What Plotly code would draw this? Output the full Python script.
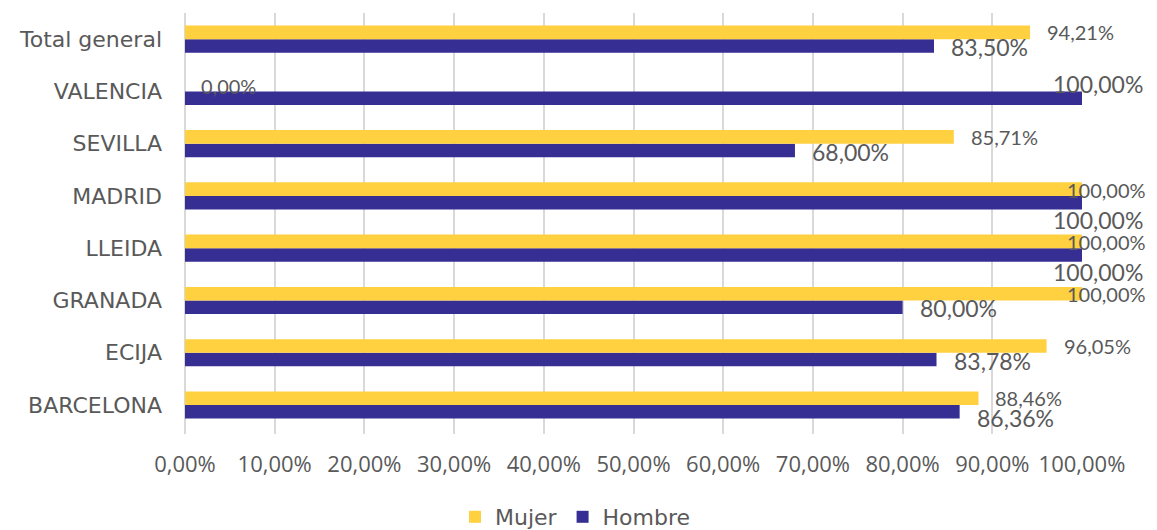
import plotly.graph_objects as go

categories = ["BARCELONA", "ECIJA", "GRANADA", "LLEIDA", "MADRID", "SEVILLA", "VALENCIA", "Total general"]
mujer = [0.8846, 0.9605, 1.0, 1.0, 1.0, 0.8571, 0.0, 0.9421]
hombre = [0.8636, 0.8378, 0.80, 1.0, 1.0, 0.68, 1.0, 0.8350]
x_ticks = [i / 10 for i in range(11)]

YELLOW = "#FFD03F"
BLUE = "#362E93"
TEXT = "#595959"
FONT = "Lato"
CAT_FONT = "DejaVu Sans"
TICK_FONT = "Open Sans"

def fmt(v):
    return f"{v*100:.2f}%".replace(".", ",")

fig = go.Figure()
fig.add_trace(go.Bar(y=categories, x=hombre, orientation="h", name="Hombre",
                     marker=dict(color=BLUE, line=dict(width=0))))
fig.add_trace(go.Bar(y=categories, x=mujer, orientation="h", name="Mujer",
                     marker=dict(color=YELLOW, line=dict(width=0))))

mfont = dict(size=20, color=TEXT, family=FONT)
hfont = dict(size=23, color=TEXT, family=FONT)
annotations = []
for i, (cat, m, h) in enumerate(zip(categories, mujer, hombre)):
    # Mujer labels
    if m >= 0.999:
        annotations.append(dict(x=m, y=cat, text=fmt(m), xanchor="right", xshift=66, yshift=6,
                                showarrow=False, font=mfont))
    elif m <= 0.001:
        annotations.append(dict(x=m, y=cat, text=fmt(m), xanchor="left", xshift=14, yshift=5,
                                showarrow=False, font=mfont))
    else:
        annotations.append(dict(x=m, y=cat, text=fmt(m), xanchor="left", xshift=15, yshift=7,
                                showarrow=False, font=mfont))
    # Hombre labels
    if h >= 0.999:
        ys = 7 if m <= 0.001 else -24
        annotations.append(dict(x=h, y=cat, text=fmt(h), xanchor="right", xshift=63, yshift=ys,
                                showarrow=False, font=hfont))
    else:
        ys = -13 if i == 0 else -8
        annotations.append(dict(x=h, y=cat, text=fmt(h), xanchor="left", xshift=15, yshift=ys,
                                showarrow=False, font=hfont))

fig.update_layout(
    width=1157, height=530,
    margin=dict(l=177, r=83, t=5, b=104),
    paper_bgcolor="white", plot_bgcolor="white",
    separators=",.",
    barmode="group", bargap=0.48, bargroupgap=0,
    font=dict(family=FONT, color=TEXT),
    showlegend=True,
    legend=dict(orientation="h", traceorder="reversed", xref="container", yref="container",
                x=0.4905, xanchor="center", y=0.0, yanchor="bottom",
                font=dict(size=22, color=TEXT, family=CAT_FONT), itemwidth=30),
    annotations=annotations,
)
fig.update_xaxes(range=[0, 1], tickvals=x_ticks, tickformat=".2%",
                 showgrid=True, gridcolor="#D9D9D9", gridwidth=1.5,
                 zeroline=True, zerolinecolor="#D9D9D9", zerolinewidth=1.5,
                 tickfont=dict(size=22, color=TEXT, family=TICK_FONT), ticks="", ticklabelstandoff=15)
fig.update_yaxes(tickfont=dict(size=22, color=TEXT, family=CAT_FONT), ticks="", showgrid=False,
                 ticklabelstandoff=22)

fig.write_html("out.html")
